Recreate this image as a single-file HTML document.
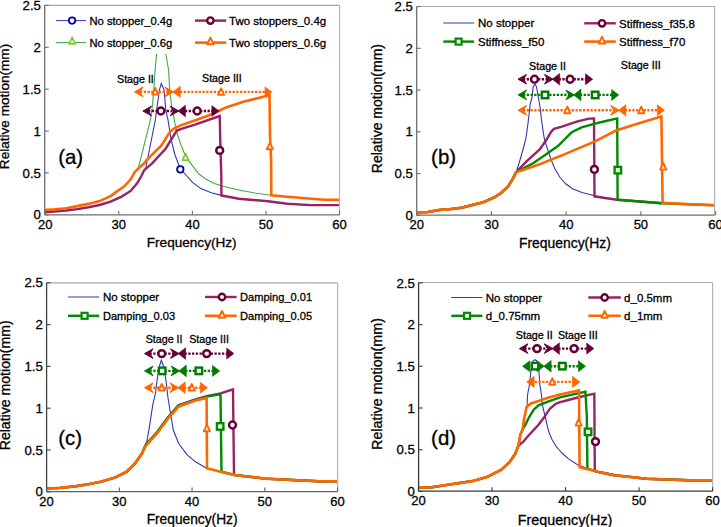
<!DOCTYPE html><html><head><meta charset="utf-8"><style>html,body{margin:0;padding:0;background:#fff;overflow:hidden;} svg{display:block;} text{font-family:"Liberation Sans", sans-serif;fill:#000;stroke:#000;stroke-width:0.3px;}</style></head><body>
<svg width="721" height="527" viewBox="0 0 721 527">
<rect width="721" height="527" fill="#fff"/>
<defs><clipPath id="ca"><rect x="44.7" y="5.4" width="294.8" height="209.4"/></clipPath><clipPath id="cb"><rect x="416.7" y="6.5" width="297.9" height="208.7"/></clipPath><clipPath id="cc"><rect x="46.6" y="282.8" width="291" height="209"/></clipPath><clipPath id="cd"><rect x="418.4" y="282.8" width="294.2" height="208.6"/></clipPath></defs>
<g clip-path="url(#ca)">
<polyline points="44.7,210.0 55.1,209.4 66.2,208.3 77.3,206.1 88.4,203.9 99.5,201.1 110.6,196.1 117.3,191.1 124.3,186.3 130.9,179.0 134.6,172.2 138.3,168.5 150.4,120.0 152.5,105.0 153.8,90.0 154.4,80.0 155.5,65.0 156.6,54.0 156.6,30.0 165.8,30.0 165.8,54.0 168.6,70.0 169.7,90.0 171.5,105.0 174.3,120.0 176.6,132.0 181.0,145.0 185.9,157.0 188.4,160.4 198.8,174.0 206.1,179.2 214.4,183.4 223.8,186.5 240.0,190.2 255.0,193.0 270.8,195.2" fill="none" stroke="#44a844" stroke-width="1.1" stroke-linejoin="miter" stroke-linecap="butt" />
<polyline points="44.7,212.2 66.2,210.5 77.3,209.1 88.4,207.2 99.5,205.0 110.6,201.6 121.7,196.6 130.9,190.7 137.1,183.3 142.0,174.7 145.8,168.0 155.3,120.0 159.4,90.0 161.3,83.3 164.1,90.0 165.8,110.0 168.0,120.0 171.2,140.0 175.0,155.0 178.8,165.0 184.2,173.0 192.5,182.4 200.9,188.6 211.3,192.8 221.4,195.4 238.8,198.7 268.0,201.2 287.4,203.7 310.7,205.1 340.0,205.1" fill="none" stroke="#3434b4" stroke-width="1.1" stroke-linejoin="miter" stroke-linecap="butt" />
<polyline points="44.7,212.2 66.2,210.5 77.3,209.1 88.4,207.2 99.5,205.0 110.6,201.6 121.7,196.6 130.9,190.7 137.1,183.3 139.6,179.2 142.0,174.7 144.0,170.4 152.1,163.3 165.8,148.5 176.6,130.8 180.6,129.1 195.0,124.6 219.7,116.0 220.5,150.0 221.3,175.0 221.4,195.4 238.8,198.7 268.0,201.2 287.4,203.7 310.7,205.1 340.0,205.1" fill="none" stroke="#982266" stroke-width="2.4" stroke-linejoin="miter" stroke-linecap="butt" />
<polyline points="44.7,210.0 55.1,209.4 66.2,208.3 77.3,206.1 88.4,203.9 99.5,201.1 110.6,196.1 117.3,191.1 124.3,186.3 130.9,179.0 134.6,172.2 138.3,168.5 144.0,163.6 146.4,160.4 161.2,145.6 170.3,131.4 174.0,128.5 180.0,125.6 193.3,121.0 210.0,115.0 226.7,107.2 243.3,101.7 269.5,95.2 270.0,135.0 271.1,160.0 271.3,195.2 287.4,196.7 304.9,198.3 324.3,199.7 340.0,199.9" fill="none" stroke="#ff6600" stroke-width="2.6" stroke-linejoin="miter" stroke-linecap="butt" />
</g>
<circle cx="180.3" cy="169.4" r="3.2" fill="#fff" stroke="#0000a0" stroke-width="1.8"/>
<polygon points="185.5,153.6 188.5,160.1 182.5,160.1" fill="#fff" stroke="#77cc33" stroke-width="1.7" stroke-linejoin="round"/>
<circle cx="219.7" cy="150.4" r="3.45" fill="#fff" stroke="#650036" stroke-width="2.45"/>
<polygon points="269.9,142.6 272.9,149.2 266.8,149.2" fill="#fff" stroke="#ff6600" stroke-width="1.9" stroke-linejoin="round"/>
<line x1="140.0" y1="91.9" x2="168.0" y2="91.9" stroke="#ff6600" stroke-width="2.4" stroke-dasharray="2.3 1.45"/>
<polygon points="134.5,91.9 143.0,87.1 139.9,91.9 143.0,96.7" fill="#ff6600" stroke="#ff6600" stroke-width="1.0" stroke-linejoin="round"/>
<polygon points="173.5,91.9 165.0,87.1 168.1,91.9 165.0,96.7" fill="#ff6600" stroke="#ff6600" stroke-width="1.0" stroke-linejoin="round"/>
<line x1="180.0" y1="91.9" x2="266.0" y2="91.9" stroke="#ff6600" stroke-width="2.4" stroke-dasharray="2.3 1.45"/>
<polygon points="172.7,91.9 180.3,86.3 180.3,97.5" fill="#ff6600" stroke="#ff6600" stroke-width="0.6" stroke-linejoin="round"/>
<polygon points="272.0,91.9 265.0,86.9 265.0,96.9" fill="#ff6600" stroke="#ff6600" stroke-width="0.6" stroke-linejoin="round"/>
<polygon points="155.2,87.9 158.2,94.5 152.1,94.5" fill="#fff" stroke="#ff6600" stroke-width="1.9" stroke-linejoin="round"/>
<polygon points="221.1,88.3 224.2,94.9 218.0,94.9" fill="#fff" stroke="#ff6600" stroke-width="1.9" stroke-linejoin="round"/>
<line x1="148.0" y1="111.0" x2="172.0" y2="111.0" stroke="#650036" stroke-width="2.4" stroke-dasharray="2.3 1.45"/>
<polygon points="142.9,111.0 151.4,106.2 148.3,111.0 151.4,115.8" fill="#650036" stroke="#650036" stroke-width="1.0" stroke-linejoin="round"/>
<polygon points="178.8,111.0 170.3,106.2 173.4,111.0 170.3,115.8" fill="#650036" stroke="#650036" stroke-width="1.0" stroke-linejoin="round"/>
<line x1="185.0" y1="111.0" x2="213.0" y2="111.0" stroke="#650036" stroke-width="2.4" stroke-dasharray="2.3 1.45"/>
<polygon points="178.0,111.0 185.4,105.2 185.4,116.8" fill="#650036" stroke="#650036" stroke-width="0.6" stroke-linejoin="round"/>
<polygon points="219.1,111.0 211.9,105.7 211.9,116.3" fill="#650036" stroke="#650036" stroke-width="0.6" stroke-linejoin="round"/>
<circle cx="160.9" cy="111.0" r="3.45" fill="#fff" stroke="#650036" stroke-width="2.45"/>
<circle cx="197.2" cy="111.0" r="3.45" fill="#fff" stroke="#650036" stroke-width="2.45"/>
<text x="117" y="83.3" font-size="10.7" text-anchor="start" >Stage II</text>
<text x="202" y="82.3" font-size="10.7" text-anchor="start" >Stage III</text>
<text x="58.2" y="164.4" font-size="20.4" text-anchor="start" >(a)</text>
<rect x="50" y="6.2" width="288" height="47.8" fill="#fff"/>
<polyline points="56.0,20.6 86.0,20.6" fill="none" stroke="#3434b4" stroke-width="1.0" stroke-linejoin="miter" stroke-linecap="butt" />
<circle cx="72.1" cy="20.6" r="3.2" fill="#fff" stroke="#0000a0" stroke-width="1.8"/>
<polyline points="56.0,42.6 86.0,42.6" fill="none" stroke="#44a844" stroke-width="1.1" stroke-linejoin="miter" stroke-linecap="butt" />
<polygon points="72.1,37.4 75.1,43.9 69.1,43.9" fill="#fff" stroke="#77cc33" stroke-width="1.7" stroke-linejoin="round"/>
<text x="89.5" y="24.8" font-size="11.2" text-anchor="start" >No stopper_0.4g</text>
<text x="89.5" y="46.8" font-size="11.2" text-anchor="start" >No stopper_0.6g</text>
<polyline points="195.0,20.6 226.2,20.6" fill="none" stroke="#982266" stroke-width="2.4" stroke-linejoin="miter" stroke-linecap="butt" />
<circle cx="210.4" cy="20.6" r="3.2" fill="#fff" stroke="#650036" stroke-width="2.4"/>
<polyline points="195.0,42.6 226.2,42.6" fill="none" stroke="#ff6600" stroke-width="2.6" stroke-linejoin="miter" stroke-linecap="butt" />
<polygon points="210.4,37.5 213.6,44.3 207.2,44.3" fill="#fff" stroke="#ff6600" stroke-width="1.9" stroke-linejoin="round"/>
<text x="229" y="24.8" font-size="11.5" text-anchor="start" >Two stoppers_0.4g</text>
<text x="229" y="46.8" font-size="11.5" text-anchor="start" >Two stoppers_0.6g</text>
<line x1="44.7" y1="5.4" x2="339.5" y2="5.4" stroke="#a8a8a8" stroke-width="1.2"/>
<line x1="339.5" y1="5.4" x2="339.5" y2="214.8" stroke="#b4b4b4" stroke-width="1.2"/>
<line x1="44.7" y1="214.8" x2="339.5" y2="214.8" stroke="#6e6e6e" stroke-width="1.3"/>
<line x1="44.7" y1="5.4" x2="44.7" y2="214.8" stroke="#6e6e6e" stroke-width="1.3"/>
<line x1="45.2" y1="214.8" x2="45.2" y2="210.8" stroke="#6e6e6e" stroke-width="1.1"/>
<text x="45.2" y="228.8" font-size="13" text-anchor="middle" >20</text>
<line x1="118.80000000000001" y1="214.8" x2="118.80000000000001" y2="210.8" stroke="#6e6e6e" stroke-width="1.1"/>
<text x="118.80000000000001" y="228.8" font-size="13" text-anchor="middle" >30</text>
<line x1="192.40000000000003" y1="214.8" x2="192.40000000000003" y2="210.8" stroke="#6e6e6e" stroke-width="1.1"/>
<text x="192.40000000000003" y="228.8" font-size="13" text-anchor="middle" >40</text>
<line x1="266.0" y1="214.8" x2="266.0" y2="210.8" stroke="#6e6e6e" stroke-width="1.1"/>
<text x="266.0" y="228.8" font-size="13" text-anchor="middle" >50</text>
<line x1="339.6" y1="214.8" x2="339.6" y2="210.8" stroke="#6e6e6e" stroke-width="1.1"/>
<text x="339.6" y="228.8" font-size="13" text-anchor="middle" >60</text>
<line x1="44.7" y1="214.8" x2="48.7" y2="214.8" stroke="#6e6e6e" stroke-width="1.1"/>
<text x="40.900000000000006" y="219.4" font-size="13.2" text-anchor="end" >0</text>
<line x1="44.7" y1="172.925" x2="48.7" y2="172.925" stroke="#6e6e6e" stroke-width="1.1"/>
<text x="40.900000000000006" y="177.525" font-size="13.2" text-anchor="end" >0.5</text>
<line x1="44.7" y1="131.05" x2="48.7" y2="131.05" stroke="#6e6e6e" stroke-width="1.1"/>
<text x="40.900000000000006" y="135.65" font-size="13.2" text-anchor="end" >1</text>
<line x1="44.7" y1="89.17500000000001" x2="48.7" y2="89.17500000000001" stroke="#6e6e6e" stroke-width="1.1"/>
<text x="40.900000000000006" y="93.775" font-size="13.2" text-anchor="end" >1.5</text>
<line x1="44.7" y1="47.30000000000001" x2="48.7" y2="47.30000000000001" stroke="#6e6e6e" stroke-width="1.1"/>
<text x="40.900000000000006" y="51.90000000000001" font-size="13.2" text-anchor="end" >2</text>
<line x1="44.7" y1="5.425000000000011" x2="48.7" y2="5.425000000000011" stroke="#6e6e6e" stroke-width="1.1"/>
<text x="40.900000000000006" y="10.025000000000011" font-size="13.2" text-anchor="end" >2.5</text>
<text x="191.7" y="247.4" font-size="13.6" text-anchor="middle" >Frequency(Hz)</text>
<text x="0" y="0" font-size="13.6" text-anchor="middle" transform="translate(9.4,106.5) rotate(-90)">Relative motion(mm)</text>
<g clip-path="url(#cb)">
<polyline points="416.7,212.4 428.1,212.0 439.2,210.0 450.3,209.1 461.4,207.7 472.5,205.0 483.6,202.2 494.7,197.2 500.7,193.2 508.1,186.4 513.0,178.4 516.1,172.2 517.5,168.0 520.0,160.0 523.0,149.5 525.8,139.0 527.8,124.8 529.6,110.0 530.2,104.0 531.8,98.5 533.2,86.6 534.8,84.2 536.5,86.6 538.6,98.5 540.2,108.0 541.4,119.3 543.4,133.0 544.4,139.0 546.2,145.0 548.5,152.0 551.2,160.0 555.0,169.0 560.0,177.5 566.0,184.0 572.4,188.7 582.0,192.5 593.7,195.5 617.0,199.7 662.0,203.3 714.6,205.3" fill="none" stroke="#3434b4" stroke-width="1.1" stroke-linejoin="miter" stroke-linecap="butt" />
<polyline points="416.7,212.4 428.1,212.0 439.2,210.0 450.3,209.1 461.4,207.7 472.5,205.0 483.6,202.2 494.7,197.2 500.7,193.2 508.1,186.4 513.0,178.4 516.1,172.2 527.3,160.6 539.7,149.5 545.8,140.8 551.0,132.0 554.0,128.8 561.9,126.6 576.7,121.7 589.0,118.6 594.0,118.4 594.5,196.4 616.9,199.7 662.0,203.3" fill="none" stroke="#982266" stroke-width="2.4" stroke-linejoin="miter" stroke-linecap="butt" />
<polyline points="416.7,212.4 428.1,212.0 439.2,210.0 450.3,209.1 461.4,207.7 472.5,205.0 483.6,202.2 494.7,197.2 500.7,193.2 508.1,186.4 513.0,178.4 516.1,172.2 533.5,163.0 545.8,154.4 558.2,145.8 571.7,132.2 581.6,127.3 595.0,123.6 606.0,121.0 617.2,118.4 617.6,199.7 661.8,203.3 714.6,205.3" fill="none" stroke="#008a00" stroke-width="2.4" stroke-linejoin="miter" stroke-linecap="butt" />
<polyline points="416.7,212.4 428.1,212.0 439.2,210.0 450.3,209.1 461.4,207.7 472.5,205.0 483.6,202.2 494.7,197.2 500.7,193.2 508.1,186.4 513.0,178.4 516.1,172.2 539.7,164.3 564.3,154.4 595.0,141.4 615.9,130.5 639.8,123.0 661.4,116.4 662.6,202.7 690.0,204.3 714.6,205.3" fill="none" stroke="#ff6600" stroke-width="2.6" stroke-linejoin="miter" stroke-linecap="butt" />
</g>
<circle cx="594.4" cy="169.4" r="3.45" fill="#fff" stroke="#650036" stroke-width="2.45"/>
<rect x="614.6" y="166.9" width="6.5" height="6.5" fill="#fff" stroke="#008a00" stroke-width="2.4"/>
<polygon points="663.3,163.0 666.3,169.6 660.2,169.6" fill="#fff" stroke="#ff6600" stroke-width="1.9" stroke-linejoin="round"/>
<line x1="523.0" y1="79.2" x2="547.6" y2="79.2" stroke="#650036" stroke-width="2.4" stroke-dasharray="2.3 1.45"/>
<line x1="558.6" y1="79.2" x2="587.7" y2="79.2" stroke="#650036" stroke-width="2.4" stroke-dasharray="2.3 1.45"/>
<polygon points="518.0,79.2 526.5,74.4 523.4,79.2 526.5,84.0" fill="#650036" stroke="#650036" stroke-width="1.0" stroke-linejoin="round"/>
<polygon points="553.1,79.2 544.6,74.4 547.7,79.2 544.6,84.0" fill="#650036" stroke="#650036" stroke-width="1.0" stroke-linejoin="round"/>
<polygon points="552.3,79.2 559.7,73.4 559.7,85.0" fill="#650036" stroke="#650036" stroke-width="0.6" stroke-linejoin="round"/>
<polygon points="592.7,79.2 585.5,73.7 585.5,84.7" fill="#650036" stroke="#650036" stroke-width="0.6" stroke-linejoin="round"/>
<circle cx="534.5" cy="79.2" r="3.45" fill="#fff" stroke="#650036" stroke-width="2.45"/>
<circle cx="570.1" cy="79.2" r="3.45" fill="#fff" stroke="#650036" stroke-width="2.45"/>
<line x1="523.0" y1="94.9" x2="568.9" y2="94.9" stroke="#007a00" stroke-width="2.4" stroke-dasharray="2.3 1.45"/>
<line x1="579.9" y1="94.9" x2="613.8" y2="94.9" stroke="#007a00" stroke-width="2.4" stroke-dasharray="2.3 1.45"/>
<polygon points="518.0,94.9 526.5,90.1 523.4,94.9 526.5,99.7" fill="#007a00" stroke="#007a00" stroke-width="1.0" stroke-linejoin="round"/>
<polygon points="574.4,94.9 565.9,90.1 569.0,94.9 565.9,99.7" fill="#007a00" stroke="#007a00" stroke-width="1.0" stroke-linejoin="round"/>
<polygon points="573.6,94.9 581.0,89.1 581.0,100.7" fill="#007a00" stroke="#007a00" stroke-width="0.6" stroke-linejoin="round"/>
<polygon points="618.8,94.9 611.6,89.4 611.6,100.4" fill="#007a00" stroke="#007a00" stroke-width="0.6" stroke-linejoin="round"/>
<rect x="541.8" y="91.7" width="6.5" height="6.5" fill="#fff" stroke="#007a00" stroke-width="2.4"/>
<rect x="591.9" y="91.7" width="6.5" height="6.5" fill="#fff" stroke="#007a00" stroke-width="2.4"/>
<line x1="523.0" y1="110.3" x2="613.8" y2="110.3" stroke="#ff6600" stroke-width="2.4" stroke-dasharray="2.3 1.45"/>
<line x1="624.8" y1="110.3" x2="659.5" y2="110.3" stroke="#ff6600" stroke-width="2.4" stroke-dasharray="2.3 1.45"/>
<polygon points="518.0,110.3 526.5,105.5 523.4,110.3 526.5,115.1" fill="#ff6600" stroke="#ff6600" stroke-width="1.0" stroke-linejoin="round"/>
<polygon points="619.3,110.3 610.8,105.5 613.9,110.3 610.8,115.1" fill="#ff6600" stroke="#ff6600" stroke-width="1.0" stroke-linejoin="round"/>
<polygon points="618.5,110.3 625.9,104.5 625.9,116.1" fill="#ff6600" stroke="#ff6600" stroke-width="0.6" stroke-linejoin="round"/>
<polygon points="664.5,110.3 657.3,104.8 657.3,115.8" fill="#ff6600" stroke="#ff6600" stroke-width="0.6" stroke-linejoin="round"/>
<polygon points="567.3,106.6 570.3,113.2 564.2,113.2" fill="#fff" stroke="#ff6600" stroke-width="1.9" stroke-linejoin="round"/>
<polygon points="641.2,106.6 644.2,113.2 638.2,113.2" fill="#fff" stroke="#ff6600" stroke-width="1.9" stroke-linejoin="round"/>
<text x="529.1" y="69.9" font-size="10.7" text-anchor="start" >Stage II</text>
<text x="620.8" y="68.8" font-size="10.7" text-anchor="start" >Stage III</text>
<text x="431.1" y="164.4" font-size="20.4" text-anchor="start" >(b)</text>
<rect x="425" y="7.2" width="285" height="45" fill="#fff"/>
<polyline points="443.3,23.0 474.1,23.0" fill="none" stroke="#3434b4" stroke-width="1.0" stroke-linejoin="miter" stroke-linecap="butt" />
<text x="478" y="27.2" font-size="11.5" text-anchor="start" >No stopper</text>
<polyline points="443.3,41.6 474.1,41.6" fill="none" stroke="#008a00" stroke-width="2.4" stroke-linejoin="miter" stroke-linecap="butt" />
<rect x="455.6" y="38.6" width="6.0" height="6.0" fill="#fff" stroke="#008a00" stroke-width="2.2"/>
<text x="478" y="45.8" font-size="11.5" text-anchor="start" >Stiffness_f50</text>
<polyline points="584.2,23.3 615.8,23.3" fill="none" stroke="#982266" stroke-width="2.4" stroke-linejoin="miter" stroke-linecap="butt" />
<circle cx="602.0" cy="23.3" r="3.2" fill="#fff" stroke="#650036" stroke-width="2.4"/>
<text x="619.1" y="27.5" font-size="11.5" text-anchor="start" >Stiffness_f35.8</text>
<polyline points="584.2,41.6 615.8,41.6" fill="none" stroke="#ff6600" stroke-width="2.6" stroke-linejoin="miter" stroke-linecap="butt" />
<polygon points="602.0,36.7 605.1,43.5 598.9,43.5" fill="#fff" stroke="#ff6600" stroke-width="1.9" stroke-linejoin="round"/>
<text x="619.1" y="45.8" font-size="11.5" text-anchor="start" >Stiffness_f70</text>
<line x1="416.7" y1="6.5" x2="714.6" y2="6.5" stroke="#a8a8a8" stroke-width="1.2"/>
<line x1="714.6" y1="6.5" x2="714.6" y2="215.2" stroke="#b4b4b4" stroke-width="1.2"/>
<line x1="416.7" y1="215.2" x2="714.6" y2="215.2" stroke="#6e6e6e" stroke-width="1.3"/>
<line x1="416.7" y1="6.5" x2="416.7" y2="215.2" stroke="#6e6e6e" stroke-width="1.3"/>
<line x1="416.7" y1="215.2" x2="416.7" y2="211.2" stroke="#6e6e6e" stroke-width="1.1"/>
<text x="416.7" y="229.2" font-size="13" text-anchor="middle" >20</text>
<line x1="491.42499999999995" y1="215.2" x2="491.42499999999995" y2="211.2" stroke="#6e6e6e" stroke-width="1.1"/>
<text x="491.42499999999995" y="229.2" font-size="13" text-anchor="middle" >30</text>
<line x1="566.15" y1="215.2" x2="566.15" y2="211.2" stroke="#6e6e6e" stroke-width="1.1"/>
<text x="566.15" y="229.2" font-size="13" text-anchor="middle" >40</text>
<line x1="640.875" y1="215.2" x2="640.875" y2="211.2" stroke="#6e6e6e" stroke-width="1.1"/>
<text x="640.875" y="229.2" font-size="13" text-anchor="middle" >50</text>
<line x1="715.5999999999999" y1="215.2" x2="715.5999999999999" y2="211.2" stroke="#6e6e6e" stroke-width="1.1"/>
<text x="715.5999999999999" y="229.2" font-size="13" text-anchor="middle" >60</text>
<line x1="416.7" y1="215.3" x2="420.7" y2="215.3" stroke="#6e6e6e" stroke-width="1.1"/>
<text x="412.9" y="219.9" font-size="13.2" text-anchor="end" >0</text>
<line x1="416.7" y1="173.55" x2="420.7" y2="173.55" stroke="#6e6e6e" stroke-width="1.1"/>
<text x="412.9" y="178.15" font-size="13.2" text-anchor="end" >0.5</text>
<line x1="416.7" y1="131.8" x2="420.7" y2="131.8" stroke="#6e6e6e" stroke-width="1.1"/>
<text x="412.9" y="136.4" font-size="13.2" text-anchor="end" >1</text>
<line x1="416.7" y1="90.05000000000001" x2="420.7" y2="90.05000000000001" stroke="#6e6e6e" stroke-width="1.1"/>
<text x="412.9" y="94.65" font-size="13.2" text-anchor="end" >1.5</text>
<line x1="416.7" y1="48.30000000000001" x2="420.7" y2="48.30000000000001" stroke="#6e6e6e" stroke-width="1.1"/>
<text x="412.9" y="52.90000000000001" font-size="13.2" text-anchor="end" >2</text>
<line x1="416.7" y1="6.550000000000011" x2="420.7" y2="6.550000000000011" stroke="#6e6e6e" stroke-width="1.1"/>
<text x="412.9" y="11.150000000000011" font-size="13.2" text-anchor="end" >2.5</text>
<text x="564.9" y="247.9" font-size="13.9" text-anchor="middle" >Frequency(Hz)</text>
<text x="0" y="0" font-size="14.0" text-anchor="middle" transform="translate(381.8,108.6) rotate(-90)">Relative motion(mm)</text>
<g clip-path="url(#cc)">
<polyline points="46.6,488.5 59.9,487.9 73.7,486.5 87.6,484.4 101.5,481.6 115.3,477.4 126.4,471.9 134.8,463.6 141.7,453.9 144.0,449.0 146.9,441.0 149.0,429.4 152.8,404.7 155.6,393.0 156.4,385.0 157.9,375.0 159.8,365.0 161.3,360.3 163.2,365.0 165.1,375.0 166.6,385.0 167.4,393.0 168.3,400.0 170.8,415.0 173.3,430.0 178.8,443.8 187.2,454.9 195.5,461.8 206.6,468.2 220.5,471.7 234.4,475.0 264.9,478.6 292.6,480.0 318.5,481.2 337.6,481.4" fill="none" stroke="#3434b4" stroke-width="1.1" stroke-linejoin="miter" stroke-linecap="butt" />
<polyline points="46.6,488.5 59.9,487.9 73.7,486.5 87.6,484.4 101.5,481.6 115.3,477.4 126.4,471.9 134.8,463.6 141.7,453.9 146.0,444.5 156.6,433.0 167.7,418.0 178.4,405.2 195.5,399.4 206.6,396.1 220.5,393.4 233.0,389.3 234.0,474.0 234.4,475.0 264.9,478.6 292.6,480.0 318.5,481.2 337.6,481.4" fill="none" stroke="#982266" stroke-width="2.4" stroke-linejoin="miter" stroke-linecap="butt" />
<polyline points="46.6,488.5 59.9,487.9 73.7,486.5 87.6,484.4 101.5,481.6 115.3,477.4 126.4,471.9 134.8,463.6 141.7,453.9 146.0,444.3 156.6,432.8 167.7,417.8 178.6,405.6 195.5,399.8 206.6,396.6 220.5,394.4 221.5,471.7 234.4,475.0 264.9,478.6 292.6,480.0 318.5,481.2 337.6,481.4" fill="none" stroke="#008a00" stroke-width="2.4" stroke-linejoin="miter" stroke-linecap="butt" />
<polyline points="46.6,488.5 59.9,487.9 73.7,486.5 87.6,484.4 101.5,481.6 115.3,477.4 126.4,471.9 134.8,463.6 141.7,453.9 146.0,445.5 156.6,434.0 167.7,419.0 178.8,406.4 195.5,400.6 206.6,398.0 207.0,468.2 220.5,471.7 234.4,475.0 264.9,478.6 292.6,480.0 318.5,481.2 337.6,481.4" fill="none" stroke="#ff6600" stroke-width="2.6" stroke-linejoin="miter" stroke-linecap="butt" />
</g>
<polygon points="206.9,424.6 210.0,431.2 203.8,431.2" fill="#fff" stroke="#ff6600" stroke-width="1.9" stroke-linejoin="round"/>
<rect x="216.9" y="423.2" width="6.5" height="6.5" fill="#fff" stroke="#008a00" stroke-width="2.4"/>
<circle cx="232.5" cy="425.0" r="3.45" fill="#fff" stroke="#650036" stroke-width="2.45"/>
<line x1="149.5" y1="353.6" x2="173.5" y2="353.6" stroke="#650036" stroke-width="2.4" stroke-dasharray="2.3 1.45"/>
<line x1="184.5" y1="353.6" x2="228.9" y2="353.6" stroke="#650036" stroke-width="2.4" stroke-dasharray="2.3 1.45"/>
<polygon points="144.5,353.6 153.0,348.8 149.9,353.6 153.0,358.4" fill="#650036" stroke="#650036" stroke-width="1.0" stroke-linejoin="round"/>
<polygon points="179.0,353.6 170.5,348.8 173.6,353.6 170.5,358.4" fill="#650036" stroke="#650036" stroke-width="1.0" stroke-linejoin="round"/>
<polygon points="178.2,353.6 185.6,347.8 185.6,359.4" fill="#650036" stroke="#650036" stroke-width="0.6" stroke-linejoin="round"/>
<polygon points="233.9,353.6 226.7,348.1 226.7,359.1" fill="#650036" stroke="#650036" stroke-width="0.6" stroke-linejoin="round"/>
<circle cx="161.7" cy="353.6" r="3.45" fill="#fff" stroke="#650036" stroke-width="2.45"/>
<circle cx="206.7" cy="353.6" r="3.45" fill="#fff" stroke="#650036" stroke-width="2.45"/>
<line x1="149.5" y1="370.9" x2="174.2" y2="370.9" stroke="#007a00" stroke-width="2.4" stroke-dasharray="2.3 1.45"/>
<line x1="185.2" y1="370.9" x2="214.7" y2="370.9" stroke="#007a00" stroke-width="2.4" stroke-dasharray="2.3 1.45"/>
<polygon points="144.5,370.9 153.0,366.1 149.9,370.9 153.0,375.7" fill="#007a00" stroke="#007a00" stroke-width="1.0" stroke-linejoin="round"/>
<polygon points="179.7,370.9 171.2,366.1 174.3,370.9 171.2,375.7" fill="#007a00" stroke="#007a00" stroke-width="1.0" stroke-linejoin="round"/>
<polygon points="178.9,370.9 186.3,365.1 186.3,376.7" fill="#007a00" stroke="#007a00" stroke-width="0.6" stroke-linejoin="round"/>
<polygon points="219.7,370.9 212.5,365.4 212.5,376.4" fill="#007a00" stroke="#007a00" stroke-width="0.6" stroke-linejoin="round"/>
<rect x="158.9" y="367.6" width="6.5" height="6.5" fill="#fff" stroke="#007a00" stroke-width="2.4"/>
<rect x="195.6" y="367.6" width="6.5" height="6.5" fill="#fff" stroke="#007a00" stroke-width="2.4"/>
<line x1="149.5" y1="387.7" x2="173.0" y2="387.7" stroke="#ff6600" stroke-width="2.4" stroke-dasharray="2.3 1.45"/>
<line x1="184.0" y1="387.7" x2="202.5" y2="387.7" stroke="#ff6600" stroke-width="2.4" stroke-dasharray="2.3 1.45"/>
<polygon points="144.5,387.7 153.0,382.9 149.9,387.7 153.0,392.5" fill="#ff6600" stroke="#ff6600" stroke-width="1.0" stroke-linejoin="round"/>
<polygon points="178.5,387.7 170.0,382.9 173.1,387.7 170.0,392.5" fill="#ff6600" stroke="#ff6600" stroke-width="1.0" stroke-linejoin="round"/>
<polygon points="177.7,387.7 185.1,381.9 185.1,393.5" fill="#ff6600" stroke="#ff6600" stroke-width="0.6" stroke-linejoin="round"/>
<polygon points="207.5,387.7 200.3,382.2 200.3,393.2" fill="#ff6600" stroke="#ff6600" stroke-width="0.6" stroke-linejoin="round"/>
<polygon points="161.7,384.0 164.8,390.6 158.6,390.6" fill="#fff" stroke="#ff6600" stroke-width="1.9" stroke-linejoin="round"/>
<polygon points="191.8,384.0 194.9,390.6 188.8,390.6" fill="#fff" stroke="#ff6600" stroke-width="1.9" stroke-linejoin="round"/>
<text x="145.7" y="343.4" font-size="10.7" text-anchor="start" >Stage II</text>
<text x="189.2" y="343.4" font-size="10.7" text-anchor="start" >Stage III</text>
<text x="58.2" y="445.0" font-size="20.4" text-anchor="start" >(c)</text>
<rect x="55" y="283.5" width="280" height="42" fill="#fff"/>
<polyline points="68.0,297.0 99.1,297.0" fill="none" stroke="#3434b4" stroke-width="1.0" stroke-linejoin="miter" stroke-linecap="butt" />
<text x="102.9" y="301.2" font-size="11.5" text-anchor="start" >No stopper</text>
<polyline points="68.0,315.8 99.1,315.8" fill="none" stroke="#008a00" stroke-width="2.4" stroke-linejoin="miter" stroke-linecap="butt" />
<rect x="81.6" y="312.8" width="6.0" height="6.0" fill="#fff" stroke="#008a00" stroke-width="2.2"/>
<text x="102.9" y="320" font-size="11.1" text-anchor="start" >Damping_0.03</text>
<polyline points="205.0,297.0 236.6,297.0" fill="none" stroke="#982266" stroke-width="2.4" stroke-linejoin="miter" stroke-linecap="butt" />
<circle cx="222.0" cy="297.0" r="3.2" fill="#fff" stroke="#650036" stroke-width="2.4"/>
<text x="240" y="301.2" font-size="11.1" text-anchor="start" >Damping_0.01</text>
<polyline points="205.0,315.8 236.6,315.8" fill="none" stroke="#ff6600" stroke-width="2.6" stroke-linejoin="miter" stroke-linecap="butt" />
<polygon points="222.0,310.9 225.2,317.7 218.8,317.7" fill="#fff" stroke="#ff6600" stroke-width="1.9" stroke-linejoin="round"/>
<text x="240" y="320" font-size="11.1" text-anchor="start" >Damping_0.05</text>
<line x1="46.6" y1="282.8" x2="337.6" y2="282.8" stroke="#a8a8a8" stroke-width="1.2"/>
<line x1="337.6" y1="282.8" x2="337.6" y2="491.6" stroke="#b4b4b4" stroke-width="1.2"/>
<line x1="46.6" y1="491.6" x2="337.6" y2="491.6" stroke="#606060" stroke-width="1.3"/>
<line x1="46.6" y1="282.8" x2="46.6" y2="491.6" stroke="#404040" stroke-width="1.3"/>
<line x1="46.6" y1="491.6" x2="46.6" y2="487.6" stroke="#606060" stroke-width="1.1"/>
<text x="46.6" y="505.6" font-size="13" text-anchor="middle" >20</text>
<line x1="119.35" y1="491.6" x2="119.35" y2="487.6" stroke="#606060" stroke-width="1.1"/>
<text x="119.35" y="505.6" font-size="13" text-anchor="middle" >30</text>
<line x1="192.1" y1="491.6" x2="192.1" y2="487.6" stroke="#606060" stroke-width="1.1"/>
<text x="192.1" y="505.6" font-size="13" text-anchor="middle" >40</text>
<line x1="264.85" y1="491.6" x2="264.85" y2="487.6" stroke="#606060" stroke-width="1.1"/>
<text x="264.85" y="505.6" font-size="13" text-anchor="middle" >50</text>
<line x1="337.6" y1="491.6" x2="337.6" y2="487.6" stroke="#606060" stroke-width="1.1"/>
<text x="337.6" y="505.6" font-size="13" text-anchor="middle" >60</text>
<line x1="46.6" y1="491.8" x2="50.6" y2="491.8" stroke="#404040" stroke-width="1.1"/>
<text x="42.800000000000004" y="496.40000000000003" font-size="13.2" text-anchor="end" >0</text>
<line x1="46.6" y1="450.0" x2="50.6" y2="450.0" stroke="#404040" stroke-width="1.1"/>
<text x="42.800000000000004" y="454.6" font-size="13.2" text-anchor="end" >0.5</text>
<line x1="46.6" y1="408.20000000000005" x2="50.6" y2="408.20000000000005" stroke="#404040" stroke-width="1.1"/>
<text x="42.800000000000004" y="412.80000000000007" font-size="13.2" text-anchor="end" >1</text>
<line x1="46.6" y1="366.40000000000003" x2="50.6" y2="366.40000000000003" stroke="#404040" stroke-width="1.1"/>
<text x="42.800000000000004" y="371.00000000000006" font-size="13.2" text-anchor="end" >1.5</text>
<line x1="46.6" y1="324.6" x2="50.6" y2="324.6" stroke="#404040" stroke-width="1.1"/>
<text x="42.800000000000004" y="329.20000000000005" font-size="13.2" text-anchor="end" >2</text>
<line x1="46.6" y1="282.8" x2="50.6" y2="282.8" stroke="#404040" stroke-width="1.1"/>
<text x="42.800000000000004" y="287.40000000000003" font-size="13.2" text-anchor="end" >2.5</text>
<text x="192.1" y="523.6" font-size="13.75" text-anchor="middle" >Frequency(Hz)</text>
<text x="0" y="0" font-size="14.1" text-anchor="middle" transform="translate(10.1,385.3) rotate(-90)">Relative motion(mm)</text>
<g clip-path="url(#cd)">
<polyline points="418.4,487.9 431.9,487.2 445.7,485.1 459.6,483.0 473.5,480.9 487.3,476.8 501.2,469.8 509.5,462.2 515.1,453.9 518.5,445.5 520.4,434.3 522.5,430.0 524.2,418.2 527.1,404.9 527.6,394.5 529.4,385.0 531.5,366.0 533.0,361.0 535.0,359.7 537.0,361.0 538.5,366.0 539.9,385.0 541.3,394.0 542.4,405.0 545.0,416.0 548.6,431.3 552.0,439.5 556.2,446.5 562.0,453.0 568.3,458.6 577.4,464.7 594.9,471.1 600.0,472.3 614.4,475.2 631.9,477.1 646.3,478.7 667.0,479.5 689.3,480.3 712.6,480.3" fill="none" stroke="#3434b4" stroke-width="1.1" stroke-linejoin="miter" stroke-linecap="butt" />
<polyline points="418.4,487.9 431.9,487.2 445.7,485.1 459.6,483.0 473.5,480.9 487.3,476.8 501.2,469.8 509.5,462.2 515.1,453.9 518.5,445.5 523.0,442.0 529.0,435.0 538.5,424.8 544.2,417.3 549.8,408.7 555.5,404.0 560.0,402.1 566.5,400.5 579.7,397.0 594.3,393.7 594.8,470.2 595.5,471.1 600.0,472.3 614.4,475.2 631.9,477.1 646.3,478.7 667.0,479.5 689.3,480.3 712.6,480.3" fill="none" stroke="#982266" stroke-width="2.4" stroke-linejoin="miter" stroke-linecap="butt" />
<polyline points="418.4,487.9 431.9,487.2 445.7,485.1 459.6,483.0 473.5,480.9 487.3,476.8 501.2,469.8 509.5,462.2 515.1,453.9 518.5,445.5 520.4,434.3 522.5,430.0 525.2,425.3 529.0,417.3 533.7,409.7 538.5,405.4 548.0,401.6 560.0,397.3 572.1,394.6 585.4,391.8 586.8,416.0 587.4,468.3 594.9,471.1 600.0,472.3 614.4,475.2 631.9,477.1 646.3,478.7 667.0,479.5 689.3,480.3 712.6,480.3" fill="none" stroke="#008a00" stroke-width="2.4" stroke-linejoin="miter" stroke-linecap="butt" />
<polyline points="418.4,487.9 431.9,487.2 445.7,485.1 459.6,483.0 473.5,480.9 487.3,476.8 501.2,469.8 509.5,462.2 515.1,453.9 518.5,445.5 520.4,434.3 522.5,430.0 524.2,418.2 526.6,406.8 530.9,403.5 538.5,401.1 548.0,397.8 560.0,394.5 579.0,390.4 579.6,467.3 594.9,471.1 600.0,472.3 614.4,475.2 631.9,477.1 646.3,478.7 667.0,479.5 689.3,480.3 712.6,480.3" fill="none" stroke="#ff6600" stroke-width="2.6" stroke-linejoin="miter" stroke-linecap="butt" />
</g>
<polygon points="578.6,419.0 581.6,425.6 575.6,425.6" fill="#fff" stroke="#ff6600" stroke-width="1.9" stroke-linejoin="round"/>
<rect x="584.8" y="428.6" width="6.5" height="6.5" fill="#fff" stroke="#008a00" stroke-width="2.4"/>
<circle cx="595.5" cy="441.6" r="3.45" fill="#fff" stroke="#650036" stroke-width="2.45"/>
<line x1="524.4" y1="348.6" x2="547.3" y2="348.6" stroke="#650036" stroke-width="2.4" stroke-dasharray="2.3 1.45"/>
<line x1="558.3" y1="348.6" x2="588.9" y2="348.6" stroke="#650036" stroke-width="2.4" stroke-dasharray="2.3 1.45"/>
<polygon points="519.4,348.6 527.9,343.8 524.8,348.6 527.9,353.4" fill="#650036" stroke="#650036" stroke-width="1.0" stroke-linejoin="round"/>
<polygon points="552.8,348.6 544.3,343.8 547.4,348.6 544.3,353.4" fill="#650036" stroke="#650036" stroke-width="1.0" stroke-linejoin="round"/>
<polygon points="552.0,348.6 559.4,342.8 559.4,354.4" fill="#650036" stroke="#650036" stroke-width="0.6" stroke-linejoin="round"/>
<polygon points="593.9,348.6 586.7,343.1 586.7,354.1" fill="#650036" stroke="#650036" stroke-width="0.6" stroke-linejoin="round"/>
<circle cx="537.0" cy="348.6" r="3.45" fill="#fff" stroke="#650036" stroke-width="2.45"/>
<circle cx="574.1" cy="348.6" r="3.45" fill="#fff" stroke="#650036" stroke-width="2.45"/>
<line x1="527.5" y1="366.2" x2="539.0" y2="366.2" stroke="#007a00" stroke-width="2.4" stroke-dasharray="2.3 1.45"/>
<line x1="550.0" y1="366.2" x2="580.6" y2="366.2" stroke="#007a00" stroke-width="2.4" stroke-dasharray="2.3 1.45"/>
<polygon points="522.5,366.2 529.9,360.7 529.9,371.7" fill="#007a00" stroke="#007a00" stroke-width="0.6" stroke-linejoin="round"/>
<polygon points="544.3,366.2 536.9,360.7 536.9,371.7" fill="#007a00" stroke="#007a00" stroke-width="0.6" stroke-linejoin="round"/>
<polygon points="543.7,366.2 551.1,360.4 551.1,372.0" fill="#007a00" stroke="#007a00" stroke-width="0.6" stroke-linejoin="round"/>
<polygon points="585.6,366.2 578.4,360.7 578.4,371.7" fill="#007a00" stroke="#007a00" stroke-width="0.6" stroke-linejoin="round"/>
<rect x="531.8" y="362.9" width="6.5" height="6.5" fill="#fff" stroke="#007a00" stroke-width="2.4"/>
<rect x="559.1" y="362.9" width="6.5" height="6.5" fill="#fff" stroke="#007a00" stroke-width="2.4"/>
<line x1="531.0" y1="381.9" x2="575.0" y2="381.9" stroke="#ff6600" stroke-width="2.4" stroke-dasharray="2.3 1.45"/>
<polygon points="526.6,381.9 534.2,376.3 534.2,387.5" fill="#ff6600" stroke="#ff6600" stroke-width="0.6" stroke-linejoin="round"/>
<polygon points="580.0,381.9 572.4,376.3 572.4,387.5" fill="#ff6600" stroke="#ff6600" stroke-width="0.6" stroke-linejoin="round"/>
<polygon points="552.3,378.2 555.3,384.8 549.2,384.8" fill="#fff" stroke="#ff6600" stroke-width="1.9" stroke-linejoin="round"/>
<text x="515.8" y="338.6" font-size="10.7" text-anchor="start" >Stage II</text>
<text x="557.9" y="338.6" font-size="10.7" text-anchor="start" >Stage III</text>
<text x="431.1" y="445.0" font-size="20.4" text-anchor="start" >(d)</text>
<rect x="430" y="283.2" width="280" height="42" fill="#fff"/>
<polyline points="451.3,297.5 482.4,297.5" fill="none" stroke="#3434b4" stroke-width="1.0" stroke-linejoin="miter" stroke-linecap="butt" />
<text x="485.8" y="301.7" font-size="11.5" text-anchor="start" >No stopper</text>
<polyline points="451.3,315.8 482.4,315.8" fill="none" stroke="#008a00" stroke-width="2.4" stroke-linejoin="miter" stroke-linecap="butt" />
<rect x="464.0" y="312.8" width="6.0" height="6.0" fill="#fff" stroke="#008a00" stroke-width="2.2"/>
<text x="485.8" y="320" font-size="11.5" text-anchor="start" >d_0.75mm</text>
<polyline points="588.3,297.5 620.8,297.5" fill="none" stroke="#982266" stroke-width="2.4" stroke-linejoin="miter" stroke-linecap="butt" />
<circle cx="604.6" cy="297.5" r="3.2" fill="#fff" stroke="#650036" stroke-width="2.4"/>
<text x="624.1" y="301.7" font-size="11.5" text-anchor="start" >d_0.5mm</text>
<polyline points="588.3,315.8 620.8,315.8" fill="none" stroke="#ff6600" stroke-width="2.6" stroke-linejoin="miter" stroke-linecap="butt" />
<polygon points="604.6,310.9 607.8,317.7 601.5,317.7" fill="#fff" stroke="#ff6600" stroke-width="1.9" stroke-linejoin="round"/>
<text x="624.1" y="320" font-size="11.5" text-anchor="start" >d_1mm</text>
<line x1="418.6" y1="282.5" x2="712.6" y2="282.5" stroke="#a8a8a8" stroke-width="1.2"/>
<line x1="712.6" y1="282.5" x2="712.6" y2="491.2" stroke="#b4b4b4" stroke-width="1.2"/>
<line x1="418.6" y1="491.2" x2="712.6" y2="491.2" stroke="#3a3a3a" stroke-width="1.3"/>
<line x1="418.6" y1="282.5" x2="418.6" y2="491.2" stroke="#383838" stroke-width="1.3"/>
<line x1="418.4" y1="491.2" x2="418.4" y2="487.2" stroke="#3a3a3a" stroke-width="1.1"/>
<text x="418.4" y="505.2" font-size="13" text-anchor="middle" >20</text>
<line x1="491.95" y1="491.2" x2="491.95" y2="487.2" stroke="#3a3a3a" stroke-width="1.1"/>
<text x="491.95" y="505.2" font-size="13" text-anchor="middle" >30</text>
<line x1="565.5" y1="491.2" x2="565.5" y2="487.2" stroke="#3a3a3a" stroke-width="1.1"/>
<text x="565.5" y="505.2" font-size="13" text-anchor="middle" >40</text>
<line x1="639.05" y1="491.2" x2="639.05" y2="487.2" stroke="#3a3a3a" stroke-width="1.1"/>
<text x="639.05" y="505.2" font-size="13" text-anchor="middle" >50</text>
<line x1="712.6" y1="491.2" x2="712.6" y2="487.2" stroke="#3a3a3a" stroke-width="1.1"/>
<text x="712.6" y="505.2" font-size="13" text-anchor="middle" >60</text>
<line x1="418.6" y1="491.4" x2="422.6" y2="491.4" stroke="#383838" stroke-width="1.1"/>
<text x="414.8" y="496.0" font-size="13.2" text-anchor="end" >0</text>
<line x1="418.6" y1="449.7" x2="422.6" y2="449.7" stroke="#383838" stroke-width="1.1"/>
<text x="414.8" y="454.3" font-size="13.2" text-anchor="end" >0.5</text>
<line x1="418.6" y1="408.0" x2="422.6" y2="408.0" stroke="#383838" stroke-width="1.1"/>
<text x="414.8" y="412.6" font-size="13.2" text-anchor="end" >1</text>
<line x1="418.6" y1="366.29999999999995" x2="422.6" y2="366.29999999999995" stroke="#383838" stroke-width="1.1"/>
<text x="414.8" y="370.9" font-size="13.2" text-anchor="end" >1.5</text>
<line x1="418.6" y1="324.59999999999997" x2="422.6" y2="324.59999999999997" stroke="#383838" stroke-width="1.1"/>
<text x="414.8" y="329.2" font-size="13.2" text-anchor="end" >2</text>
<line x1="418.6" y1="282.9" x2="422.6" y2="282.9" stroke="#383838" stroke-width="1.1"/>
<text x="414.8" y="287.5" font-size="13.2" text-anchor="end" >2.5</text>
<text x="565.1" y="524.5" font-size="14.3" text-anchor="middle" >Frequency(Hz)</text>
<text x="0" y="0" font-size="14.3" text-anchor="middle" transform="translate(381.9,384) rotate(-90)">Relative motion(mm)</text>
</svg></body></html>
